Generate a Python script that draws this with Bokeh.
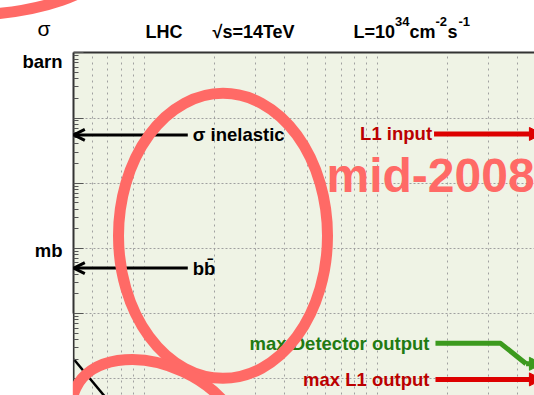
from bokeh.plotting import figure
from bokeh.models import (Range1d, LogAxis, FixedTicker, Grid, BoxAnnotation,
                          Label, Arrow, OpenHead, NormalHead, CustomJSTickFormatter)
from bokeh.embed import file_html
from bokeh.resources import INLINE

# ---------------- data (x: GeV, y: cross-section in barn) ----------------
x_grid_ticks = [60, 70, 80, 90, 100, 200, 300, 400, 500, 600, 700, 800, 900,
                1000, 2000, 3000, 4000]
y_decades = [1e-6, 1e-5, 1e-4, 1e-3, 1e-2, 1e-1, 1.0]
y_minor = [m * d for d in y_decades[:-1] for m in range(2, 10)]
y_tick_values = [1.0, 1e-3]
y_tick_labels = ["barn", "mb"]

x_min = 50.0
sigma_inel_xsec = 0.055
bb_xsec = 5.0e-4
left_arrow_from = 154.0

l1_input_y = 0.057
l1_input_from = 1750.0
det_out_x = [1775, 3375, 4340]
det_out_y = [3.5e-5, 3.5e-5, 1.7e-5]
l1_out_y = 9.8e-6
l1_out_from = 1775.0
arrow_to = 5100.0

jet_x = [50, 70]
jet_y = [2.0e-5, 4.7e-6]

# ---------------- styles ----------------
FONT = "Liberation Sans"
FS = "18.5px"
CORAL = "#ff6a66"
RED_LINE = "#dd0000"
RED_TEXT = "#bb0000"
GREEN_LINE = "#3c9a1e"
GREEN_TEXT = "#217a12"
PANEL = "#eff3e5"

p = figure(width=534, height=395, x_axis_type="log", y_axis_type="log",
           x_range=Range1d(24.25, 4717), y_range=Range1d(5.55e-6, 6.34),
           output_backend="svg", toolbar_location=None, tools="",
           min_border=0, x_axis_location=None, y_axis_location=None)
p.background_fill_color = "white"
p.border_fill_color = "white"
p.outline_line_color = None
p.center = [r for r in p.center if not isinstance(r, Grid)]

# plot panel background
p.add_layout(BoxAnnotation(left=x_min, top=1.0, fill_color=PANEL, fill_alpha=1.0,
                           line_color=None, level="image"))

# grids
xgrid = Grid(dimension=0, ticker=FixedTicker(ticks=x_grid_ticks),
             cross_bounds=(1e-8, 1.0), grid_line_color="#a0a0a0",
             grid_line_dash="2 4", grid_line_width=1)
ygrid = Grid(dimension=1, ticker=FixedTicker(ticks=y_decades[:-1]),
             cross_bounds=(x_min, 1e5), grid_line_color="#a0a0a0",
             grid_line_dash="2 2", grid_line_width=1)
p.add_layout(xgrid)
p.add_layout(ygrid)

blank = CustomJSTickFormatter(code="return ''")

# frame axes
yaxis = LogAxis(fixed_location=x_min, bounds=(1e-8, 1.0),
                ticker=FixedTicker(ticks=y_decades, minor_ticks=y_minor),
                formatter=blank,
                axis_line_color="#333333", axis_line_width=2,
                major_tick_in=10, major_tick_out=0, minor_tick_in=5, minor_tick_out=0,
                major_tick_line_color="#555555", minor_tick_line_color="#555555",
                major_label_standoff=0)
p.add_layout(yaxis, "left")
xaxis = LogAxis(fixed_location=1.0, bounds=(x_min, 1e5),
                ticker=FixedTicker(ticks=[]), formatter=blank,
                axis_line_color="#333333", axis_line_width=2,
                major_tick_in=0, major_tick_out=0, minor_tick_in=0, minor_tick_out=0,
                major_label_standoff=0)
p.add_layout(xaxis, "above")

# y tick labels
for yv, txt, off in zip(y_tick_values, y_tick_labels, [-9, -2.5]):
    p.add_layout(Label(x=62, x_units="screen", y=yv, y_offset=off, text=txt,
                       text_align="right", text_baseline="middle",
                       text_font=FONT, text_font_style="bold", text_font_size=FS,
                       text_color="black"))

# header texts (x: px from left, y: px from top of the image, vertical centre)
def hdr(x, y, t, size="18px", align="left", style="bold"):
    p.add_layout(Label(x=x, y=395 - y, x_units="screen", y_units="screen", text=t,
                       text_align=align, text_baseline="middle",
                       text_font=FONT, text_font_style=style, text_font_size=size,
                       text_color="black"))

hdr(43.5, 27.5, "σ", size="21px", align="center", style="normal")
hdr(145, 31, "LHC")
hdr(212, 31, "√s=14TeV")
hdr(353, 31, "L=10")
hdr(394.5, 21, "34", size="13px")
hdr(409, 31, "cm")
hdr(435, 21, "-2", size="13px")
hdr(447, 31, "s")
hdr(458, 21, "-1", size="13px")

# black cross-section arrows
for yv, txt in [(sigma_inel_xsec, "σ inelastic"), (bb_xsec, "bb\u0304")]:
    p.add_layout(Arrow(end=OpenHead(size=11, line_width=3, line_color="black"),
                       x_start=left_arrow_from, y_start=yv, x_end=x_min, y_end=yv,
                       line_width=3, line_color="black"))
    p.add_layout(Label(x=left_arrow_from, y=yv, x_offset=5, text=txt,
                       text_align="left", text_baseline="middle",
                       text_font=FONT, text_font_style="bold", text_font_size=FS,
                       text_color="black"))

# jet curve fragment
p.line(jet_x, jet_y, line_color="black", line_width=2.5)

# L1 input
p.add_layout(Arrow(end=NormalHead(size=13, fill_color=RED_LINE, line_color=RED_LINE),
                   x_start=l1_input_from, y_start=l1_input_y, x_end=arrow_to, y_end=l1_input_y,
                   line_width=5, line_color=RED_LINE))
p.add_layout(Label(x=l1_input_from, y=l1_input_y, x_offset=-2, text="L1 input",
                   text_align="right", text_baseline="middle",
                   text_font=FONT, text_font_style="bold", text_font_size=FS,
                   text_color=RED_TEXT))

# max detector output
p.line(det_out_x, det_out_y, line_color=GREEN_LINE, line_width=5, line_join="round")
p.add_layout(Arrow(end=NormalHead(size=13, fill_color=GREEN_LINE, line_color=GREEN_LINE),
                   x_start=det_out_x[-1], y_start=det_out_y[-1], x_end=arrow_to, y_end=det_out_y[-1],
                   line_width=5, line_color=GREEN_LINE))
p.add_layout(Label(x=det_out_x[0], y=det_out_y[0], x_offset=-6, text="max Detector output",
                   text_align="right", text_baseline="middle",
                   text_font=FONT, text_font_style="bold", text_font_size=FS,
                   text_color=GREEN_TEXT))

# max L1 output
p.add_layout(Arrow(end=NormalHead(size=13, fill_color=RED_LINE, line_color=RED_LINE),
                   x_start=l1_out_from, y_start=l1_out_y, x_end=arrow_to, y_end=l1_out_y,
                   line_width=5, line_color=RED_LINE))
p.add_layout(Label(x=l1_out_from, y=l1_out_y, x_offset=-6, text="max L1 output",
                   text_align="right", text_baseline="middle",
                   text_font=FONT, text_font_style="bold", text_font_size=FS,
                   text_color=RED_TEXT))

# hand-drawn highlight ellipses (centre in data coords, size in pixels)
p.ellipse(x=[218.0], y=[1.56e-3], width=209, height=285,
          width_units="screen", height_units="screen",
          fill_color=None, line_color=CORAL, line_width=11, level="overlay")
p.ellipse(x=[114.2], y=[1.90e-6], width=180, height=120, angle=-0.436,
          width_units="screen", height_units="screen",
          fill_color=None, line_color=CORAL, line_width=11, level="overlay")
p.ellipse(x=[15.6], y=[23.4], width=300, height=104,
          width_units="screen", height_units="screen",
          fill_color=None, line_color=CORAL, line_width=11, level="overlay")

# the lower ellipse is cut at the frame's left edge
p.add_layout(BoxAnnotation(right=x_min * 0.99, top=1e-4, fill_color="white", fill_alpha=1.0,
                           line_color=None, level="overlay"))

lab = Label(x=326, y=395 - 175, x_units="screen", y_units="screen", text="mid-2008",
            text_align="left", text_baseline="middle", text_font=FONT,
            text_font_style="bold", text_font_size="48px", text_color=CORAL)
lab.level = "overlay"
p.add_layout(lab)

open("out.html", "w").write(file_html(p, INLINE))
